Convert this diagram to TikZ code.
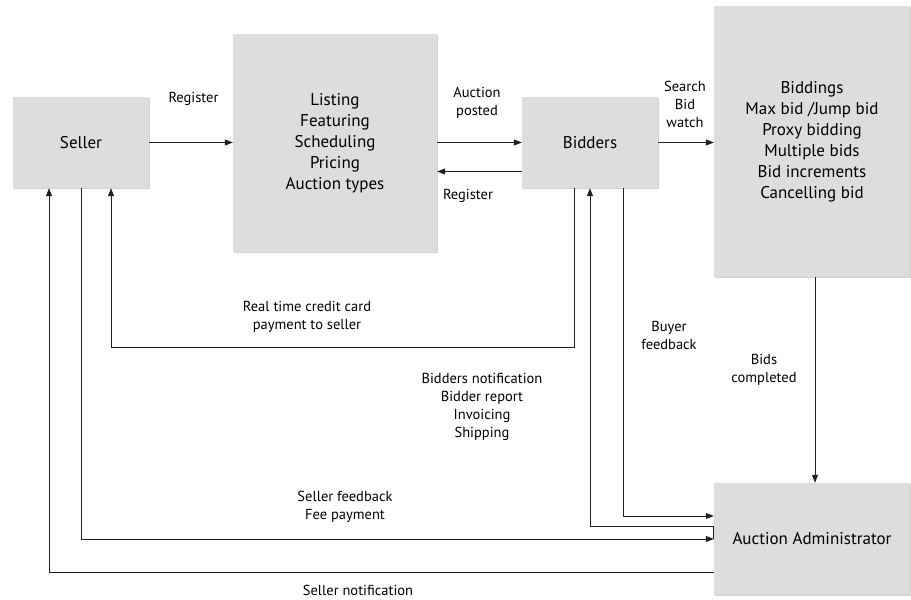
\documentclass[tikz,border=0pt]{standalone}
\usepackage{fontspec}
\setmainfont{PT Sans}
\usepackage{tikz}
\usetikzlibrary{arrows.meta,shadows}
\definecolor{boxgray}{HTML}{DCDDDE}
\definecolor{linegray}{HTML}{231F20}

\begin{document}
\begin{tikzpicture}[x=1pt,y=-1pt,
  box/.style={fill=boxgray,inner sep=0pt,align=center,font=\fontsize{17}{21}\selectfont,
    drop shadow={shadow xshift=1pt,shadow yshift=-1pt,fill=gray!35,opacity=1}},
  lbl/.style={align=center,inner sep=0pt,font=\fontsize{14.5}{18}\selectfont},
  arr/.style={draw=linegray,line width=0.8pt,-{Triangle[length=8pt,width=6pt]}}]
\useasboundingbox (0,0) rectangle (911,600);

\node[box,minimum width=136pt,minimum height=91pt] (seller) at (81,142.5) {Seller};
\node[box,minimum width=204pt,minimum height=218pt] (listing) at (335,143) {Listing\\Featuring\\Scheduling\\Pricing\\Auction types};
\node[box,minimum width=136pt,minimum height=91pt] (bidders) at (590,142.5) {Bidders};
\node[box,minimum width=196pt,minimum height=271pt,xshift=0pt] (bidding) at (812,141.5) {Biddings\\Max bid /Jump bid\\Proxy bidding\\Multiple bids\\Bid increments\\Cancelling bid};
\node[box,minimum width=196pt,minimum height=112pt] (admin) at (812,539) {Auction Administrator};

\draw[arr] (seller.east) -- (seller.east -| listing.west);
\draw[arr] (listing.east |- bidders.west) -- (bidders.west);
\draw[arr] ([yshift=-29pt]bidders.west) -- ([yshift=-29pt]bidders.west -| listing.east);
\draw[arr] (bidders.east) -- (bidders.east -| bidding.west);
\draw[arr] ([xshift=3pt]bidding.south) -- ([xshift=3pt]admin.north);

\coordinate (payturn) at (111,347);
\draw[arr] ([xshift=-16pt]bidders.south) |- (payturn) -- ([xshift=30pt]seller.south);
\draw[arr] (seller.south) |- (admin.west);
\draw[arr] ([yshift=-33pt]admin.west) -| ([xshift=-32pt]seller.south);
\draw[arr] (admin.west) -- ([yshift=13pt]admin.west) -| (bidders.south);
\draw[arr] ([xshift=33pt]bidders.south) |- ([yshift=23pt]admin.west);

\node[lbl] (lreg) at (193.5,99) {Register};
\node[lbl] (lposted) at (477,103) {Auction\\posted};
\node[lbl] (lregback) at (468,196) {Register};
\node[lbl] (lsearch) at (685,104) {Search\\Bid\\watch};
\node[lbl] (lpay) at (307,316.5) {Real time credit card\\payment to seller};
\node[lbl] (lbuyer) at (669,335.5) {Buyer\\feedback};
\node[lbl] (ldone) at (764,369.5) {Bids\\completed};
\node[lbl] (lnotify) at (482,406.5) {Bidders notification\\Bidder report\\Invoicing\\Shipping};
\node[lbl] (lfee) at (345,507) {Seller feedback\\Fee payment};
\node[lbl] (lsnotify) at (358,590) {Seller notification};
\end{tikzpicture}
\end{document}
